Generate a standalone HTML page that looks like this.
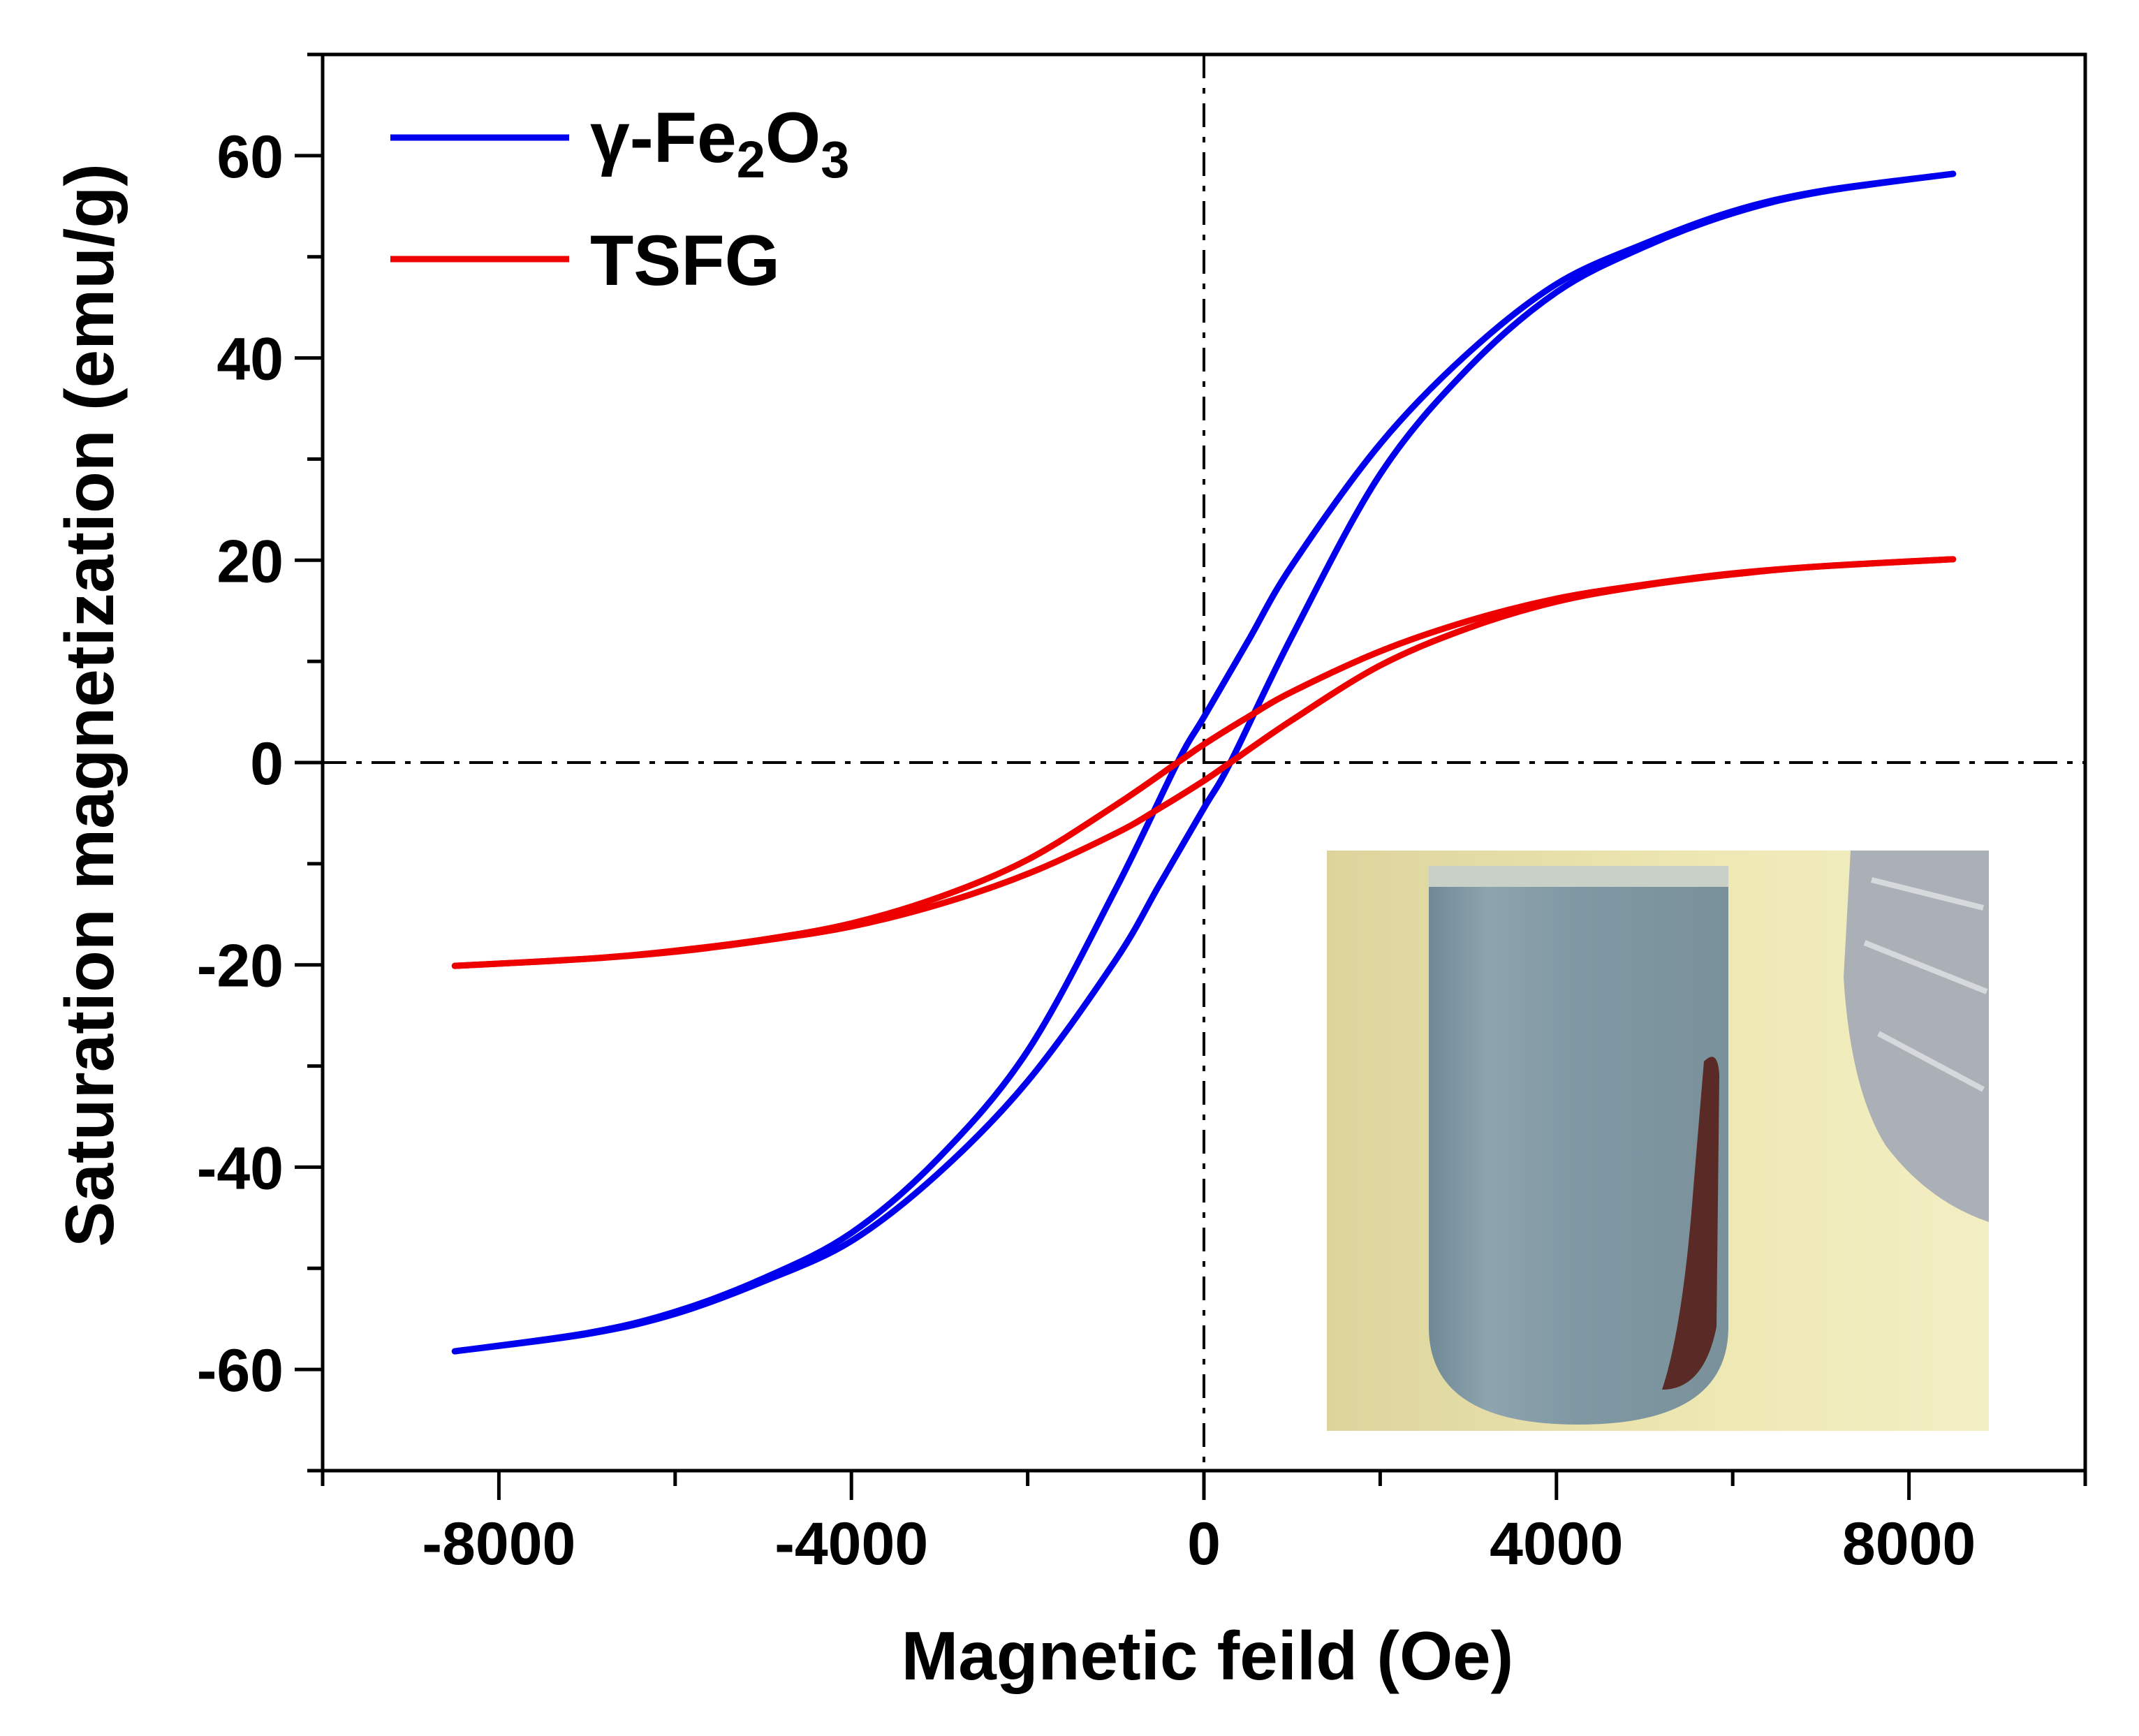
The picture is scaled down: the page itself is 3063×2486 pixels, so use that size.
<!DOCTYPE html>
<html><head><meta charset="utf-8"><style>
html,body{margin:0;padding:0;background:#fff;}
svg{display:block;font-family:"Liberation Sans",Arial,sans-serif;font-weight:bold;}
</style></head><body>
<svg id="chart" width="3063" height="2486" viewBox="0 0 3063 2486">
<defs>
<linearGradient id="tubeg" x1="0" x2="1" y1="0" y2="0">
<stop offset="0" stop-color="#6f8a96"/><stop offset="0.2" stop-color="#8ea4ae"/><stop offset="0.5" stop-color="#7f98a3"/><stop offset="1" stop-color="#7a919b"/>
</linearGradient>
<linearGradient id="bgg" x1="0" x2="1" y1="0" y2="0">
<stop offset="0" stop-color="#ddd49c"/><stop offset="0.6" stop-color="#eee8b4"/><stop offset="1" stop-color="#f3efc4"/>
</linearGradient>
</defs>
<g id="inset">
<rect x="1900" y="1218" width="948" height="831" fill="url(#bgg)"/>
<path d="M2046,1240 L2475,1240 L2475,1900 Q2475,2040 2260,2040 Q2046,2040 2046,1900 Z" fill="url(#tubeg)"/>
<rect x="2046" y="1240" width="429" height="30" fill="#c9d0c8"/>
<path d="M2440,1520 Q2460,1500 2462,1540 L2458,1900 Q2440,1990 2380,1990 Q2410,1900 2425,1700 Z" fill="#5a2a26"/>
<path d="M2650,1218 L2848,1218 L2848,1750 Q2760,1720 2700,1640 Q2650,1560 2640,1400 Z" fill="#aab0b6"/>
<path d="M2680,1260 L2840,1300 M2670,1350 L2845,1420 M2690,1480 L2840,1560" stroke="#d5d9dc" stroke-width="8"/>
</g>
<g id="plot"></g>
</svg>
<script>
const H_desc = [8500,7000,6000,5000,4000,3000,2000,1000,500,0,-300,-1000,-2000,-3000,-4000,-5000,-6000,-7000,-8500];
const H_asc  = [-8500,-7000,-6000,-5000,-4000,-3000,-2000,-1000,-500,0,300,1000,2000,3000,4000,5000,6000,7000,8500];
const fe2o3_desc = [58.2,56.5,54.5,51.3,47.3,40.5,31.5,19.5,12,4.5,0,-12.5,-28.5,-39,-46.5,-51,-54.3,-56.4,-58.2];
const fe2o3_asc  = [-58.2,-56.5,-54.5,-51.3,-47.3,-40.5,-31.5,-19.5,-12,-4.5,0,12.5,28.5,39,46.5,51,54.3,56.4,58.2];
const tsfg_desc = [20.1,19.4,18.7,17.6,16.2,14,11,7,4.5,1.8,0,-4.2,-9.6,-13.3,-15.9,-17.5,-18.6,-19.4,-20.1];
const tsfg_asc  = [-20.1,-19.4,-18.7,-17.6,-16.2,-14,-11,-7,-4.5,-1.8,0,4.2,9.6,13.3,15.9,17.5,18.6,19.4,20.1];
const xTicks = [-8000,-4000,0,4000,8000];
const yTicks = [-60,-40,-20,0,20,40,60];

const L=462,R=2986,T=78,B=2106,XMIN=-10000,XMAX=10000,YMIN=-70,YMAX=70;
const xs=v=>L+(v-XMIN)/(XMAX-XMIN)*(R-L);
const ys=v=>B-(v-YMIN)/(YMAX-YMIN)*(B-T);
const NS="http://www.w3.org/2000/svg";
const plot=document.getElementById('plot');
function mk(tag,attrs,parent){const e=document.createElementNS(NS,tag);for(const k in attrs)e.setAttribute(k,attrs[k]);(parent||plot).appendChild(e);return e;}

let zl=mk('line',{x1:L,x2:R,y1:ys(0),y2:ys(0),stroke:'#000','stroke-width':4,'stroke-dasharray':'34 14 8 14'});


let zv=mk('line',{x1:xs(0),x2:xs(0),y1:T,y2:B,stroke:'#000','stroke-width':4,'stroke-dasharray':'34 14 8 14'});



function smooth(X,Y){
  const p=X.map((x,i)=>[xs(x),ys(Y[i])]);
  let d='M'+p[0][0]+','+p[0][1];
  for(let i=0;i<p.length-1;i++){
    const p0=p[Math.max(0,i-1)],p1=p[i],p2=p[i+1],p3=p[Math.min(p.length-1,i+2)];
    const c1=[p1[0]+(p2[0]-p0[0])/6,p1[1]+(p2[1]-p0[1])/6];
    const c2=[p2[0]-(p3[0]-p1[0])/6,p2[1]-(p3[1]-p1[1])/6];
    d+=' C'+c1[0]+','+c1[1]+' '+c2[0]+','+c2[1]+' '+p2[0]+','+p2[1];
  }
  return d;
}
const series=[[H_desc,fe2o3_desc,'#0000ee','fe2o3-descending-branch'],[H_asc,fe2o3_asc,'#0000ee','fe2o3-ascending-branch'],
[H_desc,tsfg_desc,'#ee0000','tsfg-descending-branch'],[H_asc,tsfg_asc,'#ee0000','tsfg-ascending-branch']];
series.forEach(s=>{
  const p=mk('path',{d:smooth(s[0],s[1]),fill:'none',stroke:s[2],'stroke-width':9,'stroke-linejoin':'round','stroke-linecap':'round'});
  
  
});

let fr=mk('rect',{x:L,y:T,width:R-L,height:B-T,fill:'none',stroke:'#000','stroke-width':5});



for(let v=-10000;v<=10000;v+=2000){
  const major=v%4000===0;
  mk('line',{x1:xs(v),x2:xs(v),y1:B,y2:B+(major?42:22),stroke:'#000','stroke-width':5});
}
xTicks.forEach(v=>{
  const t=mk('text',{x:xs(v),y:2240,'text-anchor':'middle','font-size':86});
  t.textContent=v;
  
  
});
for(let v=-70;v<=70;v+=10){
  const major=v%20===0;
  mk('line',{x1:L,x2:L-(major?40:22),y1:ys(v),y2:ys(v),stroke:'#000','stroke-width':5});
}
yTicks.forEach(v=>{
  const t=mk('text',{x:406,y:ys(v)+31,'text-anchor':'end','font-size':86});
  t.textContent=v;
  
  
});
let xt=mk('text',{x:1729,y:2405,'text-anchor':'middle','font-size':98});
xt.textContent='Magnetic feild (Oe)';


let yt=mk('text',{x:0,y:0,'text-anchor':'middle','font-size':98,transform:'translate(162,1010) rotate(-90)'});
yt.textContent='Saturation magnetization (emu/g)';



const lg=mk('g',{});


mk('line',{x1:559,x2:815,y1:197,y2:197,stroke:'#0000ee','stroke-width':9},lg);
mk('line',{x1:559,x2:815,y1:371,y2:371,stroke:'#ee0000','stroke-width':9},lg);
let l1=mk('text',{x:845,y:232,'font-size':102},lg);
l1.innerHTML='γ-Fe<tspan dy="22" font-size="74">2</tspan><tspan dy="-22">O</tspan><tspan dy="22" font-size="74">3</tspan>';


let l2=mk('text',{x:845,y:408,'font-size':102},lg);
l2.textContent='TSFG';


</script>
</body></html>
